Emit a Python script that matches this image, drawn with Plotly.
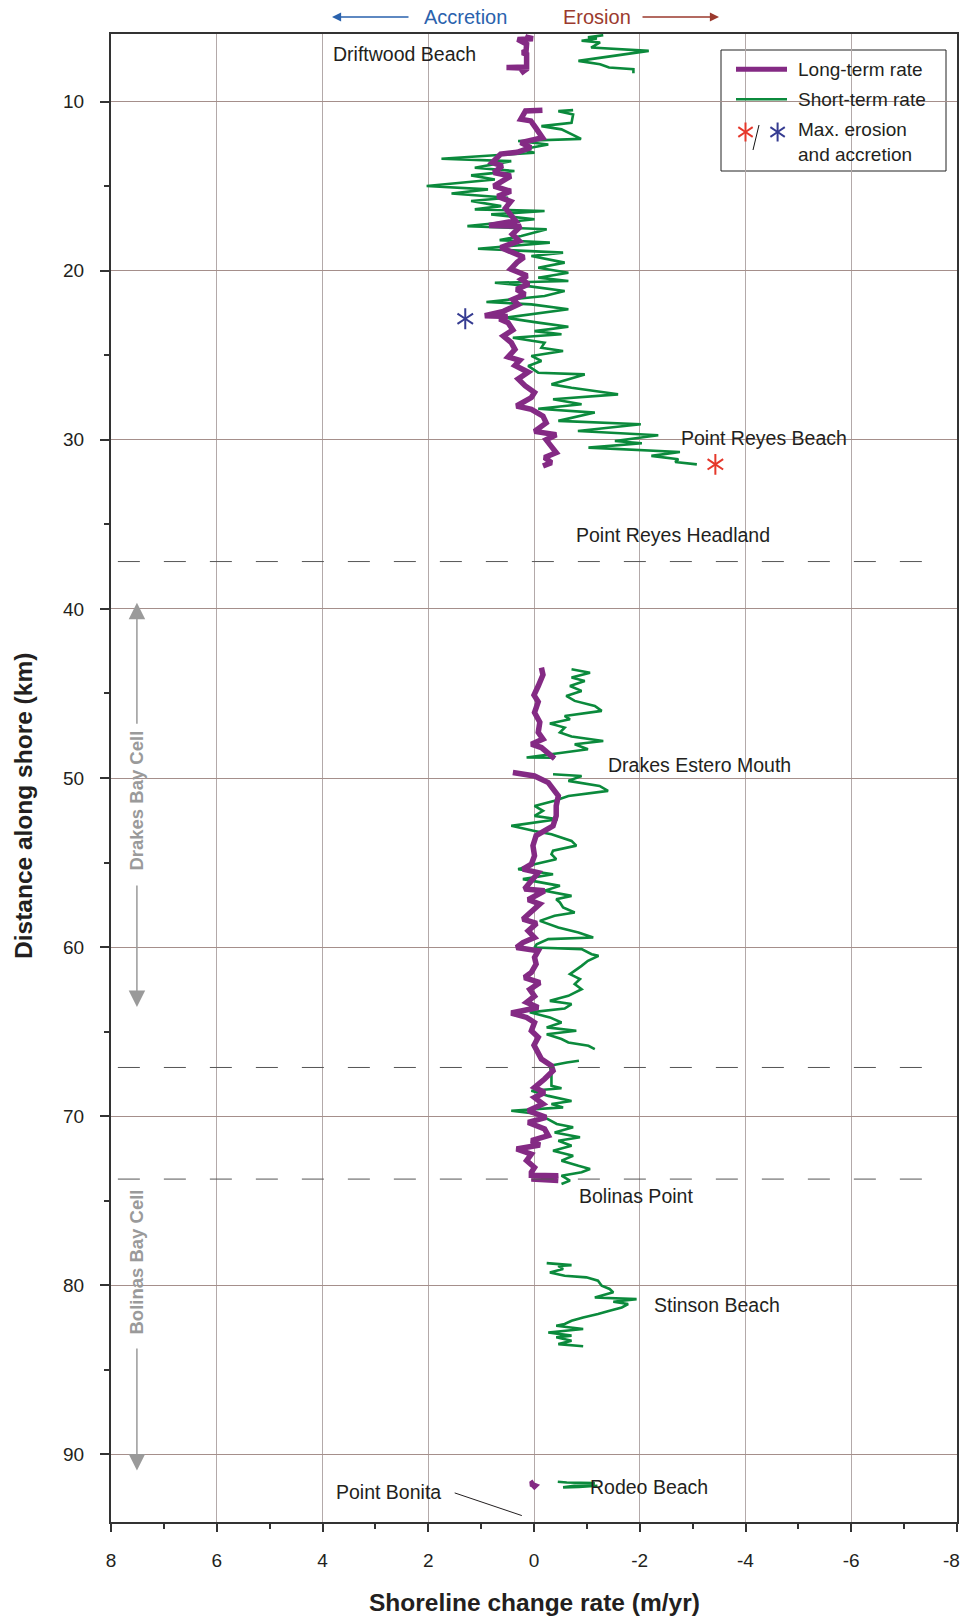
import plotly.graph_objects as go

# ---------------- DATA ----------------
# Long-term rate (m/yr) vs distance along shore (km)
lt_drift_km = [6.07, 6.2, 6.28, 6.32, 6.6, 7.0, 7.1, 7.2, 7.6, 7.95, 7.98, 8.02, 8.2, 8.32]
lt_drift_rate = [0.1, 0.12, 0.02, 0.31, 0.14, 0.15, 0.22, 0.14, 0.14, 0.14, 0.52, 0.12, 0.2, 0.25]

lt_north_km = [10.51, 10.55, 11.04, 11.14, 11.54, 12.13, 12.42, 12.72, 13.0, 13.1, 13.6, 13.8, 14.2, 14.4,
               14.7, 15.0, 15.3, 15.6, 15.9, 16.3, 16.7, 17.05, 17.33, 17.37, 17.84, 18.24, 18.63, 18.9,
               19.2, 19.5, 19.9, 20.3, 20.51, 20.8, 21.1, 21.4, 21.7, 22.0, 22.4, 22.66, 22.7, 22.85,
               23.07, 23.5, 23.86, 24.25, 24.65, 25.1, 25.3, 25.6, 26.0, 26.4, 26.8, 27.2, 27.5, 28.0,
               28.2, 28.6, 29.0, 29.5, 29.7, 30.0, 30.36, 30.76, 31.05, 31.35, 31.55]
lt_north_rate = [-0.16, 0.16, 0.25, 0.06, -0.03, -0.16, 0.25, 0.06, 0.32, 0.63, 0.79, 0.6, 0.76, 0.44,
                 0.6, 0.76, 0.44, 0.69, 0.44, 0.54, 0.44, 0.35, 0.85, 0.25, 0.41, 0.28, 0.63, 0.41,
                 0.19, 0.32, 0.44, 0.13, 0.24, 0.1, 0.33, 0.17, 0.4, 0.3, 0.58, 0.93, 0.5, 0.65,
                 0.49, 0.4, 0.58, 0.43, 0.36, 0.49, 0.27, 0.36, 0.11, 0.3, 0.17, -0.01, 0.05, 0.33,
                 0.05, -0.17, -0.23, -0.01, -0.42, -0.23, -0.33, -0.42, -0.2, -0.33, -0.17]

lt_drakes1_km = [43.47, 43.9, 44.56, 45.1, 45.5, 46.13, 46.7, 47.3, 47.7, 48.0, 48.2, 48.6, 48.85]
lt_drakes1_rate = [-0.14, -0.17, -0.08, 0.0, -0.08, -0.01, -0.11, -0.08, -0.17, 0.05, -0.14, -0.3, -0.39]

lt_drakes2_km = [49.68, 49.88, 50.27, 50.66, 51.06, 51.65, 52.24, 52.83, 53.13, 53.4, 54.0, 54.6, 55.1,
                 55.39, 55.6, 56.08, 56.57, 56.67, 57.2, 57.45, 57.86, 58.35, 58.6, 59.04, 59.43, 59.73,
                 60.02, 60.22, 60.61, 61.0, 61.5, 61.8, 62.1, 62.5, 62.9, 63.27, 63.57, 63.9, 64.16,
                 64.46, 64.95, 65.34, 65.8, 66.13, 66.62, 67.02, 67.31, 67.8, 68.3, 68.6, 68.9, 69.28,
                 69.68, 70.07, 70.37, 70.76, 71.15, 71.45, 71.7, 71.94, 72.24, 72.63, 73.03, 73.32,
                 73.5, 73.52, 73.72, 73.81]
lt_drakes2_rate = [0.4, -0.01, -0.27, -0.36, -0.46, -0.42, -0.42, -0.36, -0.17, -0.04, 0.02, -0.01, 0.05,
                   0.21, -0.08, 0.05, 0.18, -0.2, 0.11, -0.11, 0.05, 0.21, -0.05, 0.11, -0.01, 0.21,
                   0.33, -0.08, -0.01, -0.04, 0.05, 0.18, -0.11, 0.08, -0.01, 0.14, -0.08, 0.43, 0.14,
                   -0.01, 0.05, -0.08, 0.0, -0.05, -0.14, -0.33, -0.36, -0.2, -0.01, -0.2, -0.01, -0.17,
                   0.11, -0.23, 0.11, -0.2, -0.27, 0.05, -0.11, 0.33, 0.05, 0.14, -0.01, 0.05,
                   0.05, -0.46, 0.05, -0.46]

lt_rodeo_km = [91.62, 91.75, 91.85, 92.0]
lt_rodeo_rate = [0.0, 0.06, -0.02, 0.03]

# Short-term rate (m/yr)
st_drift_km = [6.07, 6.2, 6.27, 6.4, 6.5, 6.8, 7.0, 7.59, 7.79, 7.98, 8.08, 8.32]
st_drift_rate = [-1.31, -1.02, -1.19, -0.9, -1.25, -1.08, -2.17, -0.84, -1.25, -1.42, -1.88, -1.88]

st_north_km = [10.5, 10.56, 10.76, 11.25, 11.45, 11.64, 12.2, 12.33, 12.53, 12.83, 13.02, 13.38, 13.52,
               13.91, 14.1, 14.36, 14.6, 14.99, 15.19, 15.43, 15.68, 15.88, 16.18, 16.37, 16.47, 16.67,
               16.96, 17.36, 17.55, 17.95, 18.19, 18.34, 18.7, 18.93, 19.13, 19.52, 19.82, 20.12, 20.41,
               20.61, 20.71, 20.91, 21.2, 21.5, 21.85, 21.99, 22.28, 22.58, 22.78, 23.07, 23.31, 23.57,
               23.76, 23.96, 24.26, 24.55, 24.75, 25.04, 25.34, 25.63, 26.03, 26.13, 26.42, 26.72, 26.92,
               27.31, 27.6, 27.9, 28.16, 28.39, 28.88, 29.08, 29.48, 29.73, 30.07, 30.2, 30.46, 30.72,
               30.95, 31.15, 31.31, 31.45]
st_north_rate = [-0.74, -0.46, -0.74, -0.71, -0.14, -0.52, -0.89, 0.3, -0.27, 0.24, -0.01, 1.75, 0.43,
                 1.12, 0.37, 1.19, 0.74, 2.03, 0.87, 1.56, 0.49, 1.19, 0.62, 1.12, -0.2, 0.81,
                 -0.01, 1.26, -0.24, 0.24, 0.65, -0.3, 1.06, -0.55, 0.05, -0.58, -0.08, -0.65, -0.08,
                 -0.65, 0.74, 0.11, -0.58, -0.2, 0.9, 0.05, -0.65, 0.11, 0.55, -0.08, -0.65, -0.01,
                 -0.52, 0.4, -0.2, -0.14, -0.55, 0.05, -0.14, 0.11, -0.08, -0.96, -0.65, -0.33, -0.71,
                 -1.59, -0.36, -0.9, -0.08, -1.15, -0.46, -2.02, -0.83, -2.35, -1.53, -2.04, -1.03, -2.76,
                 -2.22, -2.73, -2.67, -3.08]

st_drakes1_km = [43.57, 43.77, 44.06, 44.26, 44.56, 44.85, 45.15, 45.44, 45.74, 46.03, 46.33, 46.53, 46.78,
                 47.02, 47.31, 47.55, 47.81, 48.0, 48.3, 48.5, 48.79, 48.8]
st_drakes1_rate = [-0.71, -1.06, -0.71, -0.96, -0.68, -0.9, -0.61, -0.77, -1.15, -1.28, -0.58, -0.68, -0.3,
                   -0.58, -0.49, -0.71, -1.31, -0.77, -1.02, -0.52, 0.14, -0.39]

st_drakes2_km = [49.78, 49.88, 50.17, 50.47, 50.76, 51.06, 51.35, 51.65, 51.94, 52.24, 52.44, 52.83, 53.13,
                 53.33, 53.72, 54.0, 54.3, 54.51, 54.8, 55.1, 55.39, 55.69, 55.98, 56.18, 56.38, 56.67,
                 56.97, 57.17, 57.36, 57.66, 57.95, 58.15, 58.45, 58.84, 59.14, 59.43, 59.53, 59.83, 60.02,
                 60.12, 60.42, 60.52, 60.81, 61.11, 61.6, 61.89, 62.19, 62.49, 62.88, 63.18, 63.37, 63.63,
                 63.86, 64.16, 64.46, 64.75, 64.95, 65.15, 65.44, 65.64, 65.84, 66.03]
st_drakes2_rate = [-0.36, -0.9, -0.65, -1.24, -1.4, -0.65, -0.39, -0.01, -0.17, -0.01, -0.45, 0.43, -0.01,
                   -0.33, -0.71, -0.8, -0.36, -0.33, -0.42, -0.01, 0.3, -0.36, 0.21, -0.17, -0.49, -0.2,
                   -0.71, -0.42, -0.49, -0.55, -0.77, -0.39, -0.11, -0.46, -0.84, -1.12, -0.27, -0.05, -0.01,
                   -0.9, -1.09, -1.22, -1.02, -0.9, -0.68, -0.87, -0.77, -0.9, -0.65, -0.3, -0.71, -0.58,
                   0.08, -0.3, -0.52, -0.24, -0.8, -0.24, -0.52, -0.65, -1.03, -1.15]

st_bolinas_km = [66.72, 66.82, 67.02, 67.5, 68.2, 68.35, 68.5, 68.8, 69.1, 69.28, 69.48, 69.68, 69.87,
                 70.17, 70.46, 70.66, 70.96, 71.25, 71.45, 71.75, 72.04, 72.34, 72.63, 72.93, 73.12,
                 73.32, 73.52, 73.81, 74.01]
st_bolinas_rate = [-0.85, -0.62, -0.3, -0.33, -0.33, -0.52, 0.05, -0.27, -0.71, -0.33, -0.55, 0.43, -0.08,
                   -0.27, -0.43, -0.74, -0.39, -0.87, -0.46, -0.71, -0.36, -0.74, -0.52, -0.84, -1.06,
                   -0.9, -0.52, -0.68, -0.52]

st_stinson_km = [78.69, 78.81, 78.85, 79.04, 79.24, 79.44, 79.53, 79.73, 80.03, 80.22, 80.42, 80.72, 80.82,
                 80.97, 81.11, 81.31, 81.5, 81.7, 81.9, 82.1, 82.29, 82.39, 82.59, 82.79, 82.98, 83.08,
                 83.28, 83.48, 83.61]
st_stinson_rate = [-0.24, -0.71, -0.46, -0.55, -0.3, -0.58, -0.99, -1.21, -1.28, -1.43, -1.5, -1.15, -1.94,
                   -1.5, -1.78, -1.66, -1.43, -1.21, -0.93, -0.71, -0.58, -0.42, -0.93, -0.27, -0.71, -0.42,
                   -0.71, -0.46, -0.93]

st_rodeo_km = [91.62, 91.66, 91.7, 91.82, 91.95, 91.92, 91.86]
st_rodeo_rate = [-0.45, -0.62, -1.15, -0.8, -0.55, -0.85, -1.2]

max_erosion_km, max_erosion_rate = [31.45], [-3.43]
max_accretion_km, max_accretion_rate = [22.84], [1.30]

cell_boundaries_km = [37.2, 67.12, 73.72]

x_ticks = [8, 6, 4, 2, 0, -2, -4, -6, -8]
y_ticks = [10, 20, 30, 40, 50, 60, 70, 80, 90]

# place labels: (text, rate, km, anchor)
place_labels = [
    ("Driftwood Beach", 3.84, 7.19, "left"),
    ("Point Reyes Beach", -2.74, 29.89, "left"),
    ("Point Reyes Headland", -0.76, 35.63, "left"),
    ("Drakes Estero Mouth", -1.37, 49.23, "left"),
    ("Bolinas Point", -0.82, 74.73, "left"),
    ("Stinson Beach", -2.23, 81.14, "left"),
    ("Rodeo Beach", -1.02, 91.94, "left"),
    ("Point Bonita", 1.72, 92.24, "right"),
]


def join(segments):
    xs, ys = [], []
    for i, (k, r) in enumerate(segments):
        if i:
            xs.append(None)
            ys.append(None)
        xs += r
        ys += k
    return xs, ys


lt_x, lt_y = join([(lt_drift_km, lt_drift_rate), (lt_north_km, lt_north_rate),
                   (lt_drakes1_km, lt_drakes1_rate), (lt_drakes2_km, lt_drakes2_rate),
                   (lt_rodeo_km, lt_rodeo_rate)])
st_x, st_y = join([(st_drift_km, st_drift_rate), (st_north_km, st_north_rate),
                   (st_drakes1_km, st_drakes1_rate), (st_drakes2_km, st_drakes2_rate),
                   (st_bolinas_km, st_bolinas_rate), (st_stinson_km, st_stinson_rate),
                   (st_rodeo_km, st_rodeo_rate)])

# ---------------- STYLE ----------------
W, H = 963, 1618
ML, MR, MT, MB = 111, 6, 34, 96
PW, PH = W - ML - MR, H - MT - MB


def pxx(p):
    return (p - ML) / PW


def pxy(p):
    return 1 - (p - MT) / PH


PURPLE = "#842a84"
GREEN = "#0b8a3c"
RED = "#e5382b"
BLUE = "#353b91"
GRAY = "#9a9a9a"
TXT = "#231f20"
FONT = "Liberation Sans, Arial, sans-serif"

fig = go.Figure()
fig.add_trace(go.Scatter(x=st_x, y=st_y, mode="lines",
                         line=dict(color=GREEN, width=2.6), hoverinfo="skip"))
fig.add_trace(go.Scatter(x=lt_x, y=lt_y, mode="lines",
                         line=dict(color=PURPLE, width=5.5), hoverinfo="skip"))


def asterisk(xs, ys, color, size, **kw):
    # six-armed asterisk built from two three-armed markers
    for sym in ("y-up-open", "y-down-open"):
        fig.add_trace(go.Scatter(x=xs, y=ys, mode="markers", cliponaxis=False, hoverinfo="skip",
                                 marker=dict(symbol=sym, size=size, color=color,
                                             line=dict(color=color, width=2)), **kw))


asterisk(max_erosion_rate, max_erosion_km, RED, 13)
asterisk(max_accretion_rate, max_accretion_km, BLUE, 13)
# legend asterisks on an overlay axis in paper-like coordinates
asterisk([pxx(745.5)], [pxy(132)], RED, 12, xaxis="x2", yaxis="y2")
asterisk([pxx(777.6)], [pxy(132)], BLUE, 12, xaxis="x2", yaxis="y2")

shapes = []
for km in cell_boundaries_km:
    shapes.append(dict(type="line", xref="x", yref="y", x0=7.87, x1=-7.55, y0=km, y1=km,
                       line=dict(color="#555555", width=1, dash="22px,24px")))
# Point Bonita leader
shapes.append(dict(type="line", xref="x", yref="y", x0=1.5, y0=92.28, x1=0.23, y1=93.62,
                   line=dict(color=TXT, width=1)))
# legend box
shapes.append(dict(type="rect", xref="paper", yref="paper", x0=pxx(721), x1=pxx(946),
                   y0=pxy(171), y1=pxy(50), line=dict(color="#222", width=1), fillcolor="white",
                   layer="between"))
shapes.append(dict(type="line", xref="paper", yref="paper", x0=pxx(736), x1=pxx(787),
                   y0=pxy(69.3), y1=pxy(69.3), line=dict(color=PURPLE, width=5), layer="above"))
shapes.append(dict(type="line", xref="paper", yref="paper", x0=pxx(736), x1=pxx(787),
                   y0=pxy(99.3), y1=pxy(99.3), line=dict(color=GREEN, width=2.6), layer="above"))
shapes.append(dict(type="line", xref="paper", yref="paper", x0=pxx(753), x1=pxx(759),
                   y0=pxy(150), y1=pxy(125), line=dict(color="#111", width=1), layer="above"))

ann = []
for text, xr, km, anc in place_labels:
    ann.append(dict(text=text, x=xr, y=km, xref="x", yref="y", showarrow=False,
                    xanchor=anc, yanchor="middle", font=dict(family=FONT, size=19.5, color=TXT)))
# legend texts
for text, yy in [("Long-term rate", 69), ("Short-term rate", 99), ("Max. erosion", 130),
                 ("and accretion", 154)]:
    ann.append(dict(text=text, x=pxx(796), y=pxy(yy), xref="paper", yref="paper", showarrow=False,
                    xanchor="left", yanchor="middle", font=dict(family=FONT, size=19, color=TXT)))
# Accretion / Erosion header
ann.append(dict(text="Accretion", x=pxx(465), y=pxy(17), xref="paper", yref="paper", showarrow=False,
                xanchor="center", yanchor="middle", font=dict(family=FONT, size=20, color="#2a62ad")))
ann.append(dict(text="Erosion", x=pxx(597), y=pxy(17), xref="paper", yref="paper", showarrow=False,
                xanchor="center", yanchor="middle", font=dict(family=FONT, size=20, color="#9b3a2e")))
ann.append(dict(text="", x=pxx(332), y=pxy(17), xref="paper", yref="paper", showarrow=True,
                ax=78, ay=0, arrowhead=2, arrowsize=1.4, arrowwidth=1.3, arrowcolor="#2a62ad"))
ann.append(dict(text="", x=pxx(719), y=pxy(17), xref="paper", yref="paper", showarrow=True,
                ax=-78, ay=0, arrowhead=2, arrowsize=1.4, arrowwidth=1.3, arrowcolor="#9b3a2e"))
# Cell labels and arrows
ann.append(dict(text="<b>Drakes Bay Cell</b>", x=7.51, y=51.34, xref="x", yref="y", showarrow=False,
                textangle=-90, font=dict(family=FONT, size=18.5, color=GRAY)))
ann.append(dict(text="<b>Bolinas Bay Cell</b>", x=7.51, y=78.6, xref="x", yref="y", showarrow=False,
                textangle=-90, font=dict(family=FONT, size=18.5, color=GRAY)))
for head, tail in [(39.63, 46.88), (63.55, 56.27), (90.96, 83.65)]:
    ann.append(dict(text="", x=7.51, y=head, ax=7.51, ay=tail, xref="x", yref="y", axref="x",
                    ayref="y", showarrow=True, arrowhead=2, arrowsize=2.2, arrowwidth=1.5,
                    arrowcolor=GRAY))
# axis titles
ann.append(dict(text="<b>Shoreline change rate (m/yr)</b>", x=pxx(534), y=pxy(1602), xref="paper",
                yref="paper", showarrow=False, xanchor="center", yanchor="middle",
                font=dict(family=FONT, size=24.5, color=TXT)))
ann.append(dict(text="<b>Distance along shore (km)</b>", x=pxx(23), y=pxy(806), xref="paper",
                yref="paper", showarrow=False, xanchor="center", yanchor="middle", textangle=-90,
                font=dict(family=FONT, size=24.5, color=TXT)))
# last x tick label, kept inside the page edge
ann.append(dict(text=str(x_ticks[-1]), x=pxx(962), y=pxy(1560), xref="paper", yref="paper",
                showarrow=False, xanchor="right", yanchor="middle",
                font=dict(family=FONT, size=19, color=TXT)))

x_ticktext = [str(v) for v in x_ticks[:-1]] + [""]

fig.update_layout(
    width=W, height=H, margin=dict(l=ML, r=MR, t=MT, b=MB, autoexpand=False),
    paper_bgcolor="white", plot_bgcolor="white", showlegend=False,
    shapes=shapes, annotations=ann,
    xaxis=dict(range=[8, -8], tickvals=x_ticks, ticktext=x_ticktext,
               showgrid=True, gridcolor="#b3a9a9", gridwidth=1, zeroline=False,
               showline=True, linecolor="#333", linewidth=2, mirror=True, automargin=False,
               ticks="outside", ticklen=8, tickwidth=1.5, tickcolor="#333",
               minor=dict(dtick=1, ticks="outside", ticklen=5, tickcolor="#333", showgrid=False),
               tickfont=dict(family=FONT, size=19, color=TXT), ticklabelstandoff=12,
               ticklabeloverflow="allow"),
    yaxis=dict(range=[94, 6], tickvals=y_ticks, ticktext=[str(v) for v in y_ticks],
               showgrid=True, gridcolor="#a58f8b", gridwidth=1.2, zeroline=False,
               showline=True, linecolor="#333", linewidth=2, mirror=True, automargin=False,
               ticks="outside", ticklen=9, tickwidth=1.5, tickcolor="#333",
               minor=dict(dtick=5, ticks="outside", ticklen=5, tickcolor="#333", showgrid=False),
               tickfont=dict(family=FONT, size=19, color=TXT), ticklabelstandoff=12),
    xaxis2=dict(overlaying="x", range=[0, 1], visible=False, fixedrange=True),
    yaxis2=dict(overlaying="y", range=[0, 1], visible=False, fixedrange=True),
)

fig.write_html("out.html")
